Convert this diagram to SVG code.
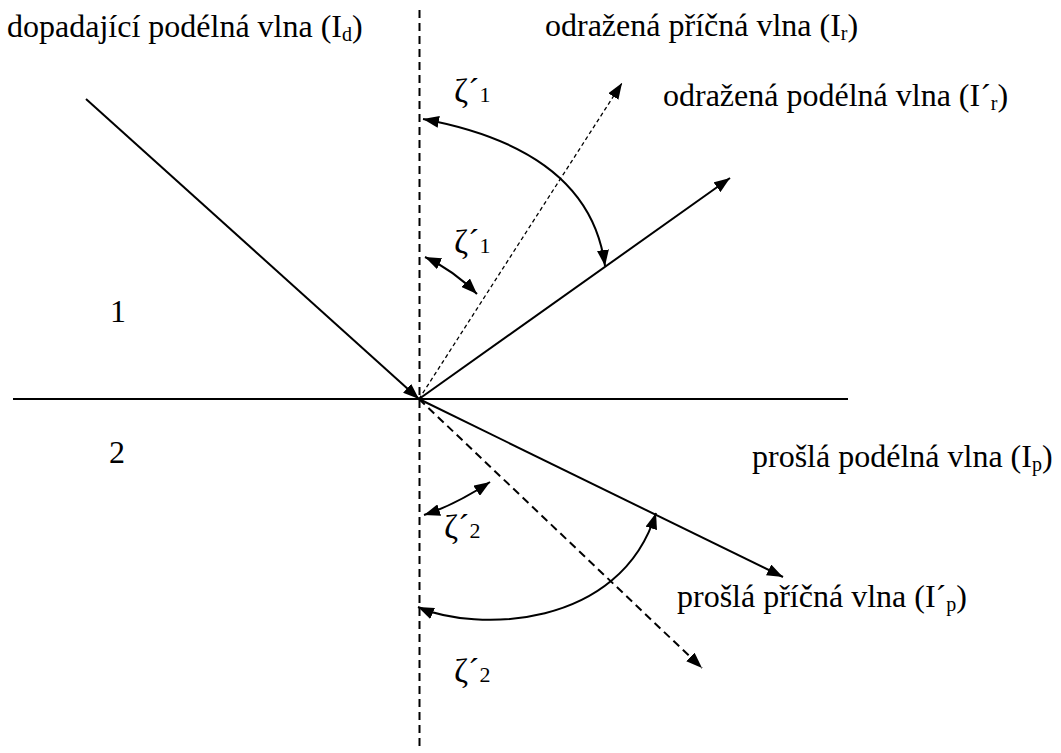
<svg xmlns="http://www.w3.org/2000/svg" width="1061" height="753" viewBox="0 0 1061 753">
<style>
  .t { font-family: "Liberation Serif", "Times New Roman", serif; font-size: 32px; fill: #000; }
  .z { font-family: "Liberation Serif", "DejaVu Serif", serif; font-size: 34px; fill: #000; }
  .sub { font-size: 20px; }
  .zsub { font-size: 22px; }
  .solid { stroke: #000; stroke-width: 2; fill: none; }
  .dash { stroke: #000; stroke-width: 2; fill: none; stroke-dasharray: 8 5; }
  .dot { stroke: #000; stroke-width: 1.3; fill: none; stroke-dasharray: 4 3; }
</style>
<defs>
  <marker id="ah" viewBox="0 0 16 12" refX="16" refY="6" markerWidth="16" markerHeight="12" markerUnits="userSpaceOnUse" orient="auto-start-reverse">
    <path d="M0,0 L16,6 L0,12 z" fill="#000"/>
  </marker>
</defs>
<rect width="1061" height="753" fill="#fff"/>

<g id="axes">
  <line class="solid" x1="13" y1="399" x2="848" y2="399"/>
  <line class="dash" x1="419.5" y1="10" x2="419.5" y2="746"/>
</g>

<g id="connectors">
  <line id="incident" class="solid" x1="86" y1="99" x2="419" y2="399" marker-end="url(#ah)"/>
  <line id="reflected-long" class="solid" x1="419" y1="399" x2="730" y2="178" marker-end="url(#ah)"/>
  <line id="reflected-trans" class="dot" x1="419" y1="399" x2="622" y2="83" marker-end="url(#ah)"/>
  <line id="transmitted-long" class="solid" x1="419" y1="399" x2="783" y2="577" marker-end="url(#ah)"/>
  <line id="transmitted-trans" class="dash" x1="419" y1="399" x2="702" y2="668" marker-end="url(#ah)"/>
  <path id="arc1-big" class="solid" d="M423,119 Q590,150 605,266" marker-start="url(#ah)" marker-end="url(#ah)"/>
  <path id="arc1-small" class="solid" d="M425,257 Q453,270 477,294" marker-start="url(#ah)" marker-end="url(#ah)"/>
  <path id="arc2-small" class="solid" d="M424,515 Q455,505 490,482" marker-start="url(#ah)" marker-end="url(#ah)"/>
  <path id="arc2-big" class="solid" d="M418,607 C475,632 620,630 656,513" marker-start="url(#ah)" marker-end="url(#ah)"/>
</g>

<g id="label-incident"><text class="t" x="7" y="37">dopadající podélná vlna (I<tspan class="sub" dy="4">d</tspan><tspan dy="-4">)</tspan></text></g>
<g id="label-refl-trans"><text class="t" x="545" y="36">odražená příčná vlna (I<tspan class="sub" dy="4">r</tspan><tspan dy="-4">)</tspan></text></g>
<g id="label-refl-long"><text class="t" x="663" y="106">odražená podélná vlna (I´<tspan class="sub" dy="4">r</tspan><tspan dy="-4">)</tspan></text></g>
<g id="label-trans-long"><text class="t" x="752" y="467">prošlá podélná vlna (I<tspan class="sub" dy="4">p</tspan><tspan dy="-4">)</tspan></text></g>
<g id="label-trans-trans"><text class="t" x="677" y="607">prošlá příčná vlna (I´<tspan class="sub" dy="4">p</tspan><tspan dy="-4">)</tspan></text></g>

<g id="medium-1"><text class="t" x="110" y="322">1</text></g>
<g id="medium-2"><text class="t" x="109" y="463">2</text></g>

<g id="zeta1-a"><text class="z" x="454" y="102">ζ´<tspan class="zsub">1</tspan></text></g>
<g id="zeta1-b"><text class="z" x="454" y="253">ζ´<tspan class="zsub">1</tspan></text></g>
<g id="zeta2-a"><text class="z" x="444" y="538">ζ´<tspan class="zsub">2</tspan></text></g>
<g id="zeta2-b"><text class="z" x="454" y="682">ζ´<tspan class="zsub">2</tspan></text></g>
</svg>
